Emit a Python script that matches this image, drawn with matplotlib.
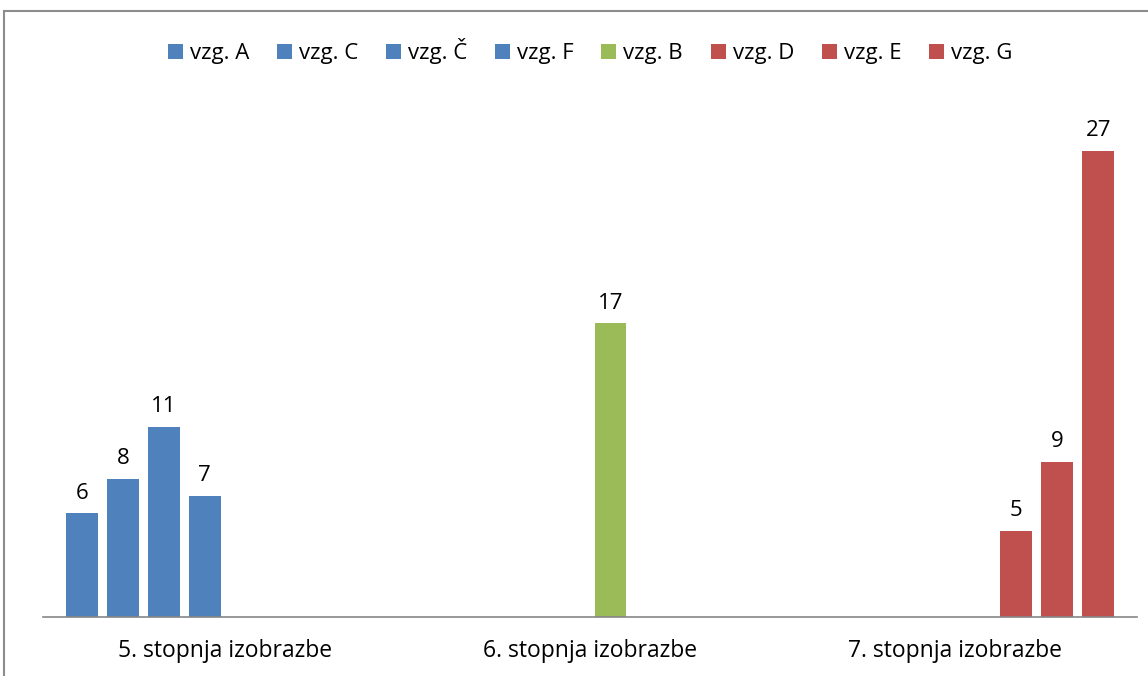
import numpy as np
import matplotlib
matplotlib.use("Agg")
import matplotlib.pyplot as plt
from matplotlib.patches import Rectangle

plt.rcParams['font.family'] = ['Open Sans', 'DejaVu Sans']

categories = ["5. stopnja izobrazbe", "6. stopnja izobrazbe", "7. stopnja izobrazbe"]
series_names = ["vzg. A", "vzg. C", "vzg. Č", "vzg. F", "vzg. B", "vzg. D", "vzg. E", "vzg. G"]
nan = np.nan
vzg_A = [6, nan, nan]
vzg_C = [8, nan, nan]
vzg_Cc = [11, nan, nan]
vzg_F = [7, nan, nan]
vzg_B = [nan, 17, nan]
vzg_D = [nan, nan, 5]
vzg_E = [nan, nan, 9]
vzg_G = [nan, nan, 27]
series_values = [vzg_A, vzg_C, vzg_Cc, vzg_F, vzg_B, vzg_D, vzg_E, vzg_G]

blue, green, red = "#4F81BD", "#9BBB59", "#C0504D"
colors = [blue, blue, blue, blue, green, red, red, red]

W, H = 1148, 676
fig = plt.figure(figsize=(W / 100, H / 100), dpi=100)
ax = fig.add_axes([43 / W, 1 - 617 / H, (1137 - 43) / W, (617 - 99) / H])

# outer chart frame (cropped at right and bottom like the reference)
fig.patches.append(Rectangle((4 / W, -0.1), 1.2, 1 - 11 / H + 0.1,
                             transform=fig.transFigure, fill=False,
                             edgecolor="#8c8c8c", linewidth=1.5))

x = np.arange(len(categories))
step = 0.1124
width = 0.0877
for k, (name, vals, col) in enumerate(zip(series_names, series_values, colors)):
    pos = x + (k - 3.5) * step
    ax.bar(pos, vals, width=width, color=col, label=name)
    for px, v in zip(pos, vals):
        if not np.isnan(v):
            ax.annotate(f"{int(v)}", (px, v), xytext=(0, 7), textcoords="offset points",
                        ha="center", va="bottom", fontsize=16, color="black")

ax.set_xlim(-0.5, 2.5)
ax.set_ylim(0, 30)
ax.set_xticks(x)
ax.set_xticklabels(categories, fontsize=16.5)
ax.tick_params(axis="x", length=0, pad=16)
ax.set_yticks([])
for s in ["top", "right", "left"]:
    ax.spines[s].set_visible(False)
ax.spines["bottom"].set_color("#868686")
ax.spines["bottom"].set_linewidth(1.2)

fig.legend(loc="center", bbox_to_anchor=(0.514, 1 - 51 / H), ncol=8, frameon=False,
           fontsize=16, handlelength=0.68, handleheight=0.68, handletextpad=0.32,
           columnspacing=1.24)

fig.savefig("out.png", dpi=100)
